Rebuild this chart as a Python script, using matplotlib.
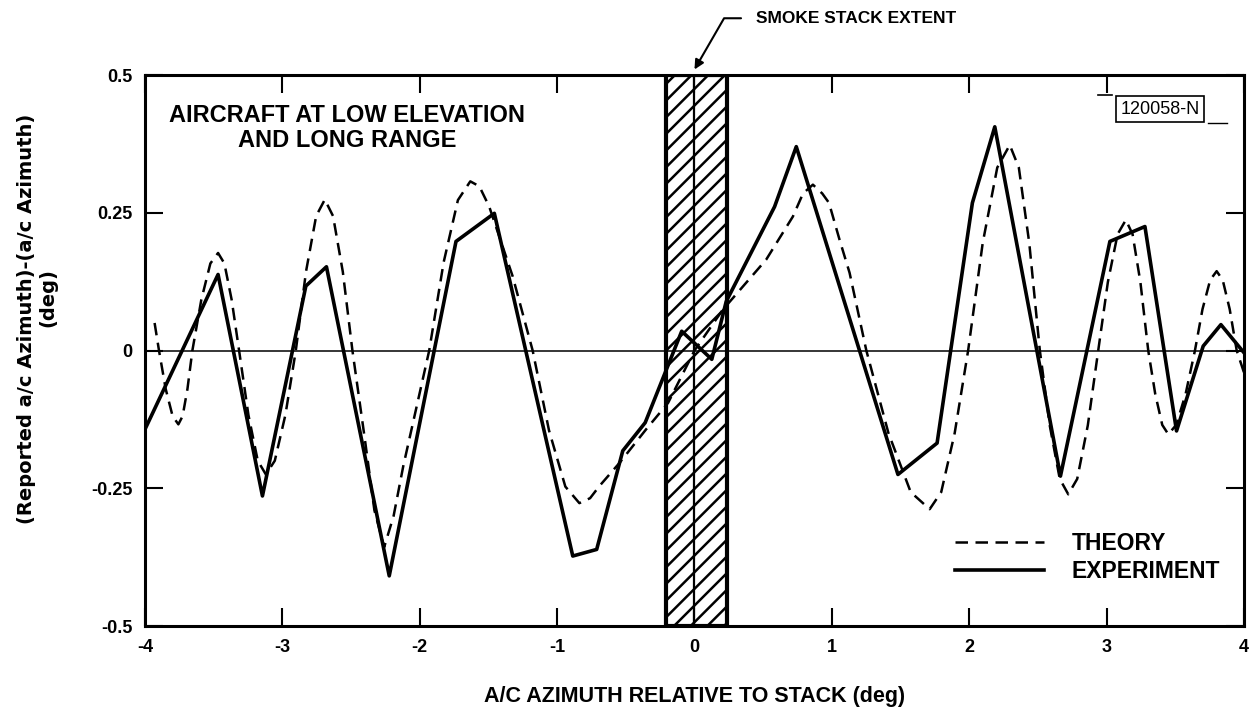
import matplotlib
matplotlib.use("Agg")
import matplotlib.pyplot as plt
from matplotlib.lines import Line2D

plt.rcParams["font.family"] = ["Liberation Sans", "DejaVu Sans"]
plt.rcParams["axes.unicode_minus"] = False
plt.rcParams["hatch.linewidth"] = 1.8

# theory curve (dashed)
theory_x = [-3.93, -3.898, -3.849, -3.799, -3.757, -3.726, -3.691, -3.655,
            -3.590, -3.524, -3.468, -3.422, -3.369, -3.315,
            -3.247, -3.179, -3.12, -3.055, -2.978, -2.902,
            -2.828, -2.754, -2.691, -2.631, -2.560, -2.49,
            -2.40, -2.33, -2.259, -2.19, -2.12, -1.931,
            -1.826, -1.722, -1.632, -1.566, -1.494, -1.324, -1.178,
            -1.059, -0.940, -0.838, -0.76, -0.692, -0.546, -0.352, -0.192,
            0.0, 0.206, 0.522, 0.716, 0.79, 0.862, 0.93, 0.979, 1.056, 1.129, 1.251,
            1.412, 1.574, 1.712, 1.796, 1.894, 1.992,
            2.098, 2.204, 2.295, 2.361, 2.437, 2.514,
            2.586, 2.659, 2.721, 2.786, 2.863, 2.939,
            3.009, 3.080, 3.140, 3.189, 3.246, 3.303,
            3.354, 3.405, 3.449, 3.507, 3.575, 3.643,
            3.698, 3.754, 3.801, 3.845, 3.896, 3.947, 4.0]
theory_y = [0.050, 0.0, -0.070, -0.119, -0.134, -0.119, -0.070, 0.0,
            0.092, 0.158, 0.177, 0.158, 0.092, 0.0,
            -0.117, -0.200, -0.225, -0.200, -0.117, 0.0,
            0.143, 0.244, 0.274, 0.244, 0.143, 0.0,
            -0.16, -0.29, -0.357, -0.30, -0.21, 0.0,
            0.160, 0.273, 0.307, 0.298, 0.261, 0.135, 0.0,
            -0.145, -0.247, -0.277, -0.268, -0.246, -0.204, -0.143, -0.095,
            0.0, 0.074, 0.165, 0.243, 0.285, 0.301, 0.285, 0.268, 0.201, 0.141, 0.0,
            -0.150, -0.257, -0.288, -0.257, -0.150, 0.0,
            0.195, 0.332, 0.373, 0.332, 0.195, 0.0,
            -0.136, -0.233, -0.261, -0.233, -0.136, 0.0,
            0.124, 0.211, 0.237, 0.211, 0.124, 0.0,
            -0.079, -0.135, -0.152, -0.135, -0.079, 0.0,
            0.075, 0.128, 0.144, 0.128, 0.075, 0.0, -0.040]

# experiment (solid)
exp_x = [-4.0, -3.468, -3.145, -2.829, -2.679, -2.222, -1.736, -1.457, -0.886, -0.712,
         -0.522, -0.359, -0.093, 0.126, 0.231, 0.583, 0.741, 1.481, 1.766, 2.023,
         2.186, 2.664, 3.024, 3.279, 3.509, 3.703, 3.832, 4.0]
exp_y = [-0.143, 0.138, -0.264, 0.117, 0.152, -0.409, 0.198, 0.249, -0.373, -0.361,
         -0.182, -0.131, 0.035, -0.016, 0.089, 0.261, 0.37, -0.225, -0.168, 0.268,
         0.406, -0.228, 0.198, 0.225, -0.146, 0.008, 0.047, -0.004]

stack_lo, stack_hi = -0.21, 0.235
xticks = [-4, -3, -2, -1, 0, 1, 2, 3, 4]
yticks = [-0.5, -0.25, 0, 0.25, 0.5]
ytick_labels = ["-0.5", "-0.25", "0", "0.25", "0.5"]

fig = plt.figure(figsize=(12.52, 7.13), dpi=100)
ax = fig.add_axes([0.1158, 0.122, 0.8778, 0.7728])

# smoke stack
ax.axvspan(stack_lo, stack_hi, facecolor="white", edgecolor="black", hatch="//",
           linewidth=3, zorder=1)
ax.axvline(0, color="black", lw=1.6, zorder=1.5)
ax.axhline(0, color="black", lw=1.1, zorder=1.5)

th, = ax.plot(theory_x, theory_y, color="black", lw=1.8, ls=(0, (5, 3)), zorder=3)
ex, = ax.plot(exp_x, exp_y, color="black", lw=2.6, zorder=4)

ax.set_xlim(-4, 4)
ax.set_ylim(-0.5, 0.5)
ax.set_xticks(xticks)
ax.set_yticks(yticks)
ax.set_yticklabels(ytick_labels)
ax.tick_params(direction="in", length=13, width=1.5, top=True, right=True,
               labeltop=False, labelright=False, labelsize=13, pad=9)
for lab in ax.get_xticklabels() + ax.get_yticklabels():
    lab.set_fontweight("bold")
for sp in ax.spines.values():
    sp.set_linewidth(2.2)

ax.set_xlabel("A/C AZIMUTH RELATIVE TO STACK (deg)", fontsize=15.5, fontweight="bold",
              labelpad=22)
ax.set_ylabel("(Reported a/c Azimuth)-(a/c Azimuth)", fontsize=14, fontweight="bold",
              family=["DejaVu Sans"])
ax.yaxis.set_label_coords(-0.099, 0.557)
ax.text(-0.088, 0.597, "(deg)", transform=ax.transAxes, rotation=90, ha="center",
        va="center", fontsize=14, fontweight="bold", family=["DejaVu Sans"])

ax.text(0.184, 0.904, "AIRCRAFT AT LOW ELEVATION\nAND LONG RANGE", transform=ax.transAxes,
        ha="center", va="center", fontsize=17, fontweight="bold", linespacing=1.15)

ax.annotate("SMOKE STACK EXTENT", xy=(0, 0.51), xytext=(0.45, 0.603),
            ha="left", va="center", fontsize=12.5, fontweight="bold", annotation_clip=False,
            arrowprops=dict(arrowstyle="-|>", color="black", lw=1.5,
                            connectionstyle="angle,angleA=180,angleB=60,rad=0",
                            relpos=(0, 0.5), shrinkA=9, shrinkB=0, mutation_scale=14))

fig.text(0.9265, 0.847, "120058-N", ha="center", va="center", fontsize=13,
         bbox=dict(boxstyle="square,pad=0.25", facecolor="white", edgecolor="black", lw=1.2))
fig.add_artist(Line2D([0.877, 0.888], [0.867, 0.867], color="black", lw=1.2))
fig.add_artist(Line2D([0.965, 0.98], [0.827, 0.827], color="black", lw=1.0))

ax.legend([th, ex], ["THEORY", "EXPERIMENT"], loc="upper left",
          bbox_to_anchor=(0.737, 0.17), frameon=False,
          prop=dict(weight="bold", size=16.5), handlelength=3.9, handletextpad=1.2,
          labelspacing=0.2, borderpad=0, borderaxespad=0)

fig.savefig("out.png", dpi=100)
